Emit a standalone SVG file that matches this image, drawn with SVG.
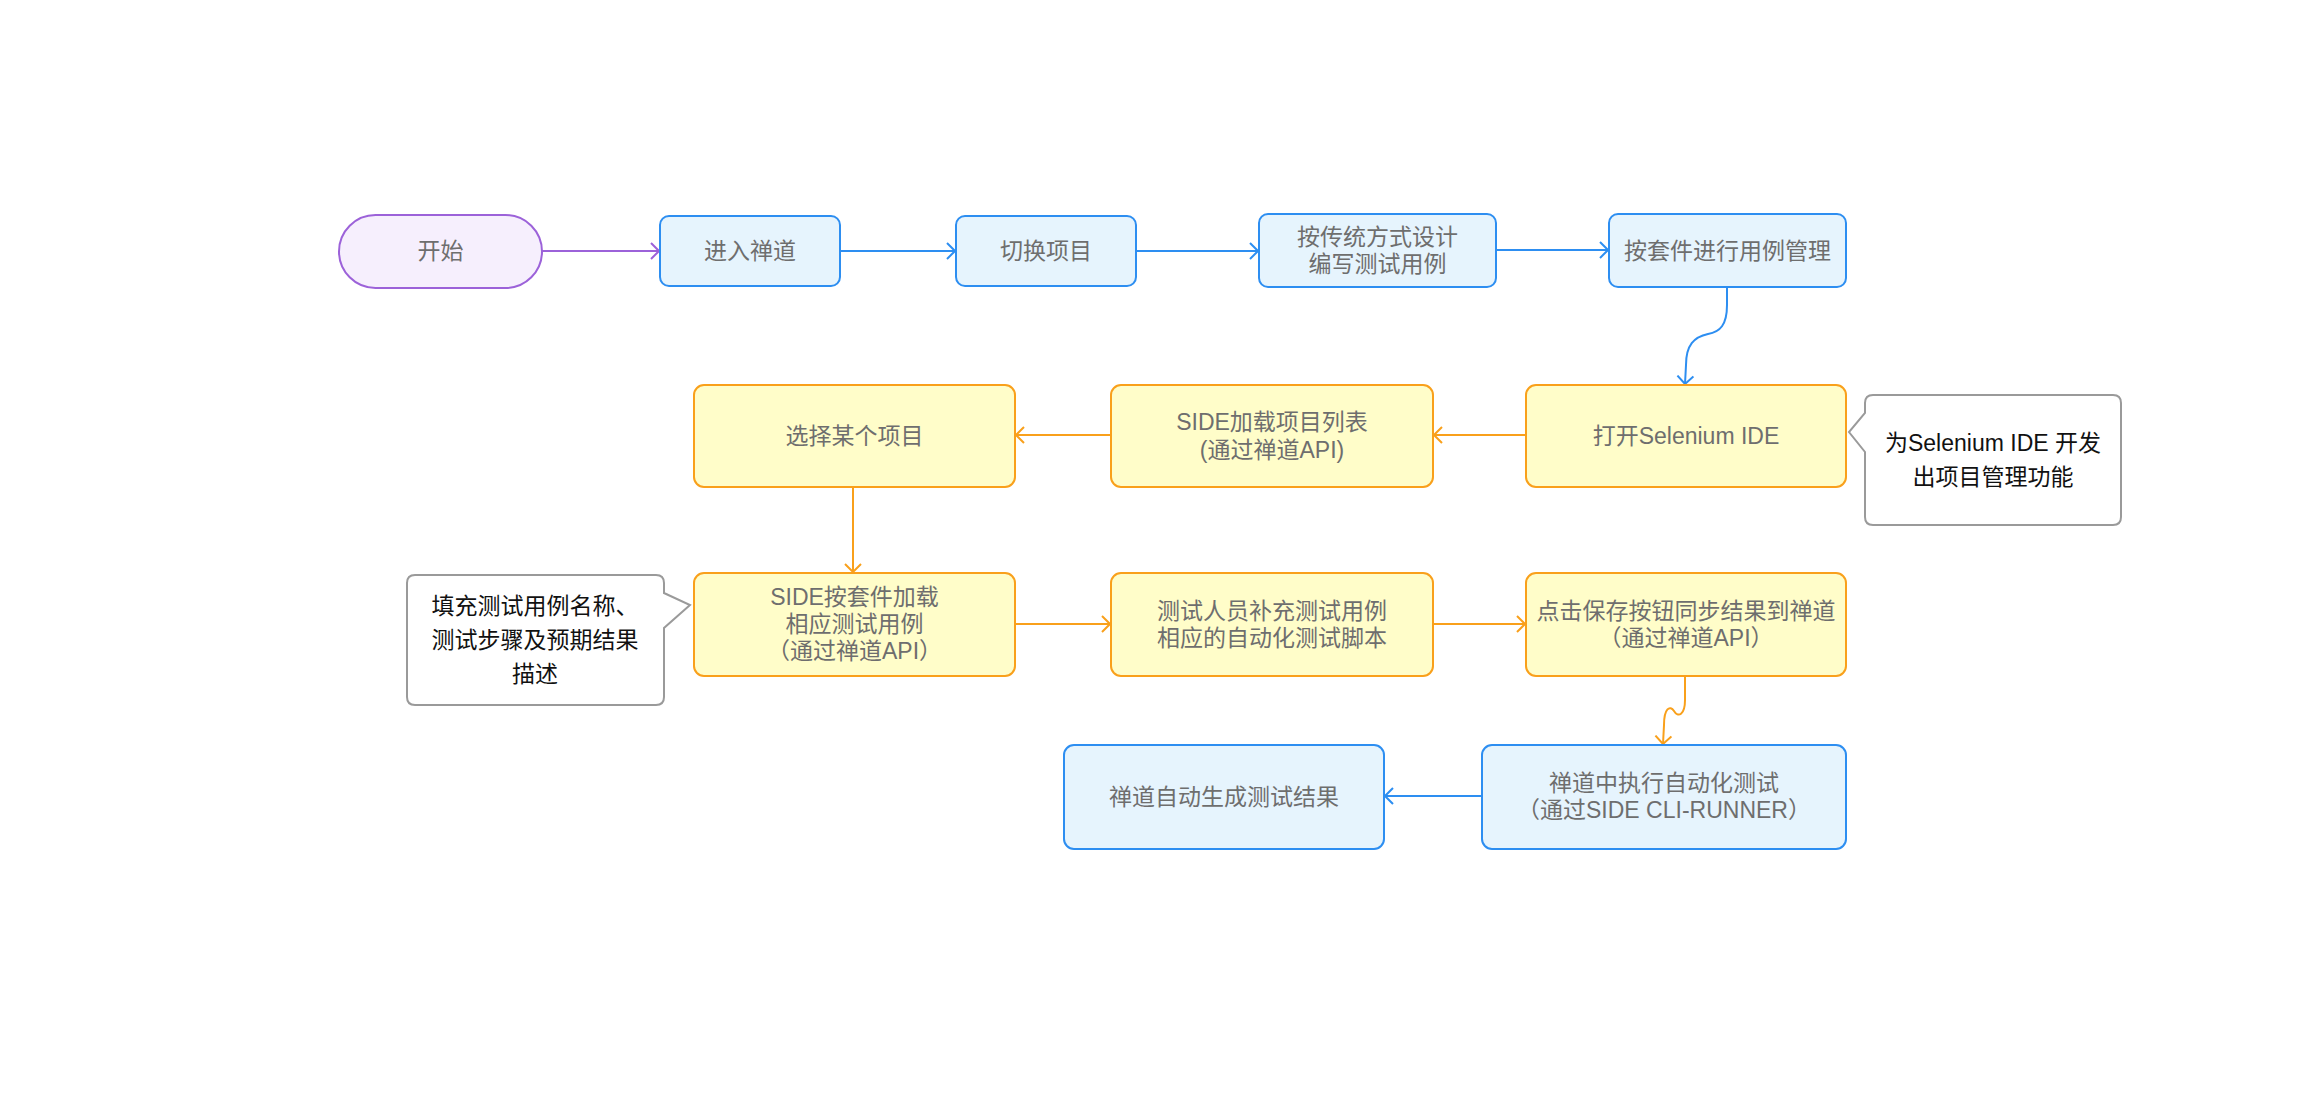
<svg xmlns="http://www.w3.org/2000/svg" width="2314" height="1112" viewBox="0 0 2314 1112">
<style>
  .t { font-family: "Liberation Sans", "Noto Sans CJK SC", sans-serif; font-size: 23px; fill: #6e6e6e; text-anchor: middle; dominant-baseline: central; }
  .c { font-family: "Liberation Sans", "Noto Sans CJK SC", sans-serif; font-size: 23px; fill: #111111; text-anchor: middle; dominant-baseline: central; }
  .blue { fill: #E6F4FD; stroke: #2D8EF1; stroke-width: 2; }
  .yellow { fill: #FFFDC9; stroke: #F9A01B; stroke-width: 2; }
  .purple { fill: #F6EFFD; stroke: #9C62D9; stroke-width: 2; }
  .callout { fill: #FFFFFF; stroke: #9A9A9A; stroke-width: 2; }
  .eb { fill: none; stroke: #2D8EF1; stroke-width: 2; marker-end: url(#ab); }
  .eo { fill: none; stroke: #F9A01B; stroke-width: 2; marker-end: url(#ao); }
  .ep { fill: none; stroke: #9C62D9; stroke-width: 2; marker-end: url(#ap); }
</style>
<defs>
  <marker id="ab" viewBox="0 0 10 18" refX="9" refY="9" markerWidth="10" markerHeight="18" markerUnits="userSpaceOnUse" orient="auto">
    <path d="M1,1 L9,9 L1,17" fill="none" stroke="#2D8EF1" stroke-width="2"/>
  </marker>
  <marker id="ao" viewBox="0 0 10 18" refX="9" refY="9" markerWidth="10" markerHeight="18" markerUnits="userSpaceOnUse" orient="auto">
    <path d="M1,1 L9,9 L1,17" fill="none" stroke="#F9A01B" stroke-width="2"/>
  </marker>
  <marker id="ap" viewBox="0 0 10 18" refX="9" refY="9" markerWidth="10" markerHeight="18" markerUnits="userSpaceOnUse" orient="auto">
    <path d="M1,1 L9,9 L1,17" fill="none" stroke="#9C62D9" stroke-width="2"/>
  </marker>
</defs>
<rect width="2314" height="1112" fill="#FFFFFF"/>

<g id="connectors">
  <path class="ep" d="M542,251 L659,251"/>
  <path class="eb" d="M840,251 L955,251"/>
  <path class="eb" d="M1136,251 L1258,251"/>
  <path class="eb" d="M1496,250 L1608,250"/>
  <path class="eb" d="M1727,287 L1727,305 C1727,325 1720,332 1708,334 C1694,337 1686,345 1686,365 L1685,384"/>
  <path class="eo" d="M1526,435 L1434,435"/>
  <path class="eo" d="M1111,435 L1016,435"/>
  <path class="eo" d="M853,487 L853,572"/>
  <path class="eo" d="M1015,624 L1110,624"/>
  <path class="eo" d="M1433,624 L1525,624"/>
  <path class="eo" d="M1685,676 L1685,700 C1685,715 1678,718 1674,711 C1670,705 1664,708 1664,725 L1663,744"/>
  <path class="eb" d="M1482,796 L1385,796"/>
</g>

<g id="n-start">
  <rect class="purple" x="339" y="215" width="203" height="73" rx="36.5"/>
  <text class="t" x="440.5" y="251">开始</text>
</g>
<g id="n-enter">
  <rect class="blue" x="660" y="216" width="180" height="70" rx="9"/>
  <text class="t" x="750" y="251">进入禅道</text>
</g>
<g id="n-switch">
  <rect class="blue" x="956" y="216" width="180" height="70" rx="9"/>
  <text class="t" x="1046" y="251">切换项目</text>
</g>
<g id="n-design">
  <rect class="blue" x="1259" y="214" width="237" height="73" rx="9"/>
  <text class="t" x="1377.5" y="237">按传统方式设计</text>
  <text class="t" x="1377.5" y="264">编写测试用例</text>
</g>
<g id="n-suite">
  <rect class="blue" x="1609" y="214" width="237" height="73" rx="9"/>
  <text class="t" x="1727.5" y="250.5">按套件进行用例管理</text>
</g>
<g id="n-open">
  <rect class="yellow" x="1526" y="385" width="320" height="102" rx="10"/>
  <text class="t" x="1686" y="436">打开Selenium IDE</text>
</g>
<g id="n-load">
  <rect class="yellow" x="1111" y="385" width="322" height="102" rx="10"/>
  <text class="t" x="1272" y="422">SIDE加载项目列表</text>
  <text class="t" x="1272" y="450">(通过禅道API)</text>
</g>
<g id="n-select">
  <rect class="yellow" x="694" y="385" width="321" height="102" rx="10"/>
  <text class="t" x="854.5" y="436">选择某个项目</text>
</g>
<g id="n-loadcase">
  <rect class="yellow" x="694" y="573" width="321" height="103" rx="10"/>
  <text class="t" x="854.5" y="597">SIDE按套件加载</text>
  <text class="t" x="854.5" y="624">相应测试用例</text>
  <text class="t" x="854.5" y="651">（通过禅道API）</text>
</g>
<g id="n-script">
  <rect class="yellow" x="1111" y="573" width="322" height="103" rx="10"/>
  <text class="t" x="1272" y="611">测试人员补充测试用例</text>
  <text class="t" x="1272" y="638">相应的自动化测试脚本</text>
</g>
<g id="n-save">
  <rect class="yellow" x="1526" y="573" width="320" height="103" rx="10"/>
  <text class="t" x="1686" y="611">点击保存按钮同步结果到禅道</text>
  <text class="t" x="1686" y="638">（通过禅道API）</text>
</g>
<g id="n-run">
  <rect class="blue" x="1482" y="745" width="364" height="104" rx="10"/>
  <text class="t" x="1664" y="783">禅道中执行自动化测试</text>
  <text class="t" x="1664" y="810">（通过SIDE CLI-RUNNER）</text>
</g>
<g id="n-result">
  <rect class="blue" x="1064" y="745" width="320" height="104" rx="10"/>
  <text class="t" x="1224" y="797">禅道自动生成测试结果</text>
</g>

<g id="note-ide">
  <path class="callout" d="M1873,395 H2113 Q2121,395 2121,403 V517 Q2121,525 2113,525 H1873 Q1865,525 1865,517 V452 L1849,432 L1865,413 V403 Q1865,395 1873,395 Z"/>
  <text class="c" x="1993" y="443">为Selenium IDE 开发</text>
  <text class="c" x="1993" y="477">出项目管理功能</text>
</g>
<g id="note-fill">
  <path class="callout" d="M415,575 H656 Q664,575 664,583 V593 L690,605 L664,628 V697 Q664,705 656,705 H415 Q407,705 407,697 V583 Q407,575 415,575 Z"/>
  <text class="c" x="535" y="606">填充测试用例名称、</text>
  <text class="c" x="535" y="640">测试步骤及预期结果</text>
  <text class="c" x="535" y="674">描述</text>
</g>
</svg>
